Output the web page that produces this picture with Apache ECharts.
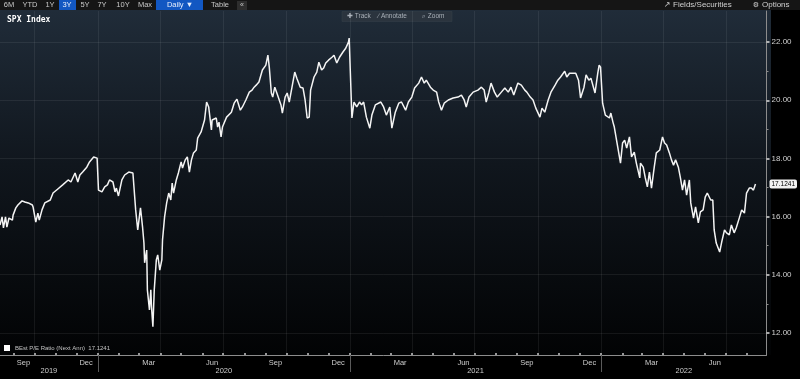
<!DOCTYPE html>
<html><head><meta charset="utf-8">
<script src="https://cdn.jsdelivr.net/npm/echarts@6/dist/echarts.min.js"></script>
<style>html,body{margin:0;padding:0;background:#000;}#c{width:800px;height:379px;}</style>
</head><body><div id="c"></div>
<script>
const seriesName = 'BEst P/E Ratio (Next Ann)';
const dates = [
'2019-08-12','2019-08-15','2019-08-17','2019-08-20','2019-08-22','2019-08-25','2019-08-30','2019-08-31','2019-09-04','2019-09-07',
'2019-09-13','2019-09-17','2019-09-22','2019-09-28','2019-09-29','2019-10-03','2019-10-06','2019-10-08','2019-10-12','2019-10-16',
'2019-10-24','2019-10-28','2019-11-04','2019-11-11','2019-11-19','2019-11-23','2019-11-29','2019-12-03','2019-12-06','2019-12-10',
'2019-12-16','2019-12-20','2019-12-26','2019-12-31','2020-01-02','2020-01-07','2020-01-11','2020-01-15','2020-01-18','2020-01-23',
'2020-01-26','2020-01-28','2020-01-31','2020-02-05','2020-02-09','2020-02-15','2020-02-16','2020-02-21','2020-02-25','2020-02-28',
'2020-03-03','2020-03-06','2020-03-08','2020-03-09','2020-03-12','2020-03-13','2020-03-16','2020-03-18','2020-03-19','2020-03-21',
'2020-03-23','2020-03-26','2020-03-28','2020-03-31','2020-04-03','2020-04-04','2020-04-07','2020-04-10','2020-04-13','2020-04-16',
'2020-04-18','2020-04-20','2020-04-24','2020-04-27','2020-05-01','2020-05-03','2020-05-07','2020-05-10','2020-05-13','2020-05-16',
'2020-05-19','2020-05-23','2020-05-25','2020-05-30','2020-06-04','2020-06-07','2020-06-10','2020-06-14','2020-06-15','2020-06-21',
'2020-06-23','2020-06-25','2020-06-28','2020-06-30','2020-07-06','2020-07-08','2020-07-13','2020-07-17','2020-07-21','2020-07-26',
'2020-07-29','2020-08-03','2020-08-08','2020-08-12','2020-08-15','2020-08-18','2020-08-22','2020-08-27','2020-09-01','2020-09-04',
'2020-09-06','2020-09-09','2020-09-11','2020-09-14','2020-09-17','2020-09-23','2020-09-25','2020-09-29','2020-10-02','2020-10-05',
'2020-10-09','2020-10-13','2020-10-16','2020-10-21','2020-10-25','2020-10-28','2020-10-31','2020-11-03','2020-11-05','2020-11-10',
'2020-11-14','2020-11-17','2020-11-21','2020-11-24','2020-11-27','2020-12-01','2020-12-06','2020-12-09','2020-12-13','2020-12-17',
'2020-12-22','2020-12-26','2020-12-30','2020-12-31','2021-01-04','2021-01-07','2021-01-11','2021-01-15','2021-01-18','2021-01-21',
'2021-01-25','2021-01-30','2021-02-02','2021-02-07','2021-02-15','2021-02-19','2021-02-23','2021-02-28','2021-03-03','2021-03-08',
'2021-03-13','2021-03-17','2021-03-23','2021-03-27','2021-04-01','2021-04-05','2021-04-11','2021-04-15','2021-04-19','2021-04-22',
'2021-04-28','2021-05-02','2021-05-07','2021-05-10','2021-05-14','2021-05-18','2021-05-24','2021-05-31','2021-06-07','2021-06-12',
'2021-06-16','2021-06-19','2021-06-23','2021-06-29','2021-07-06','2021-07-11','2021-07-15','2021-07-18','2021-07-22','2021-07-25',
'2021-07-30','2021-08-03','2021-08-09','2021-08-14','2021-08-19','2021-08-23','2021-08-27','2021-09-02','2021-09-07','2021-09-12',
'2021-09-15','2021-09-20','2021-09-24','2021-09-28','2021-10-04','2021-10-07','2021-10-11','2021-10-16','2021-10-20','2021-10-26',
'2021-10-30','2021-11-03','2021-11-09','2021-11-12','2021-11-16','2021-11-21','2021-11-25','2021-11-29','2021-12-02','2021-12-07',
'2021-12-10','2021-12-14','2021-12-17','2021-12-23','2021-12-27','2021-12-29','2021-12-31','2022-01-03','2022-01-07','2022-01-13',
'2022-01-15','2022-01-18','2022-01-20','2022-01-25','2022-01-29','2022-02-01','2022-02-04','2022-02-07','2022-02-11','2022-02-14',
'2022-02-18','2022-02-21','2022-02-26','2022-02-27','2022-03-03','2022-03-06','2022-03-09','2022-03-12','2022-03-15','2022-03-19',
'2022-03-22','2022-03-27','2022-03-31','2022-04-03','2022-04-06','2022-04-10','2022-04-13','2022-04-16','2022-04-19','2022-04-23',
'2022-04-26','2022-04-29','2022-05-02','2022-05-05','2022-05-09','2022-05-11','2022-05-15','2022-05-18','2022-05-22','2022-05-25',
'2022-05-29','2022-06-01','2022-06-04','2022-06-09','2022-06-12','2022-06-14','2022-06-17','2022-06-22','2022-06-25','2022-06-29',
'2022-07-02','2022-07-06','2022-07-09','2022-07-13','2022-07-16','2022-07-21','2022-07-24','2022-07-28','2022-07-31','2022-08-04',
'2022-08-07','2022-08-10','2022-08-13'
];
const values = [
15.71,15.99,15.61,15.99,15.64,15.95,15.88,16.05,16.30,16.40,
16.54,16.50,16.47,16.40,16.33,15.81,16.12,15.88,16.23,16.47,
16.57,16.81,16.95,17.09,17.26,17.19,17.50,17.19,17.43,17.53,
17.70,17.88,18.05,18.01,16.91,16.85,17.02,17.09,17.26,17.19,
16.85,16.98,16.71,17.26,17.43,17.53,17.57,17.50,16.23,15.54,
16.30,15.64,15.09,14.41,14.85,13.48,12.79,13.48,12.89,12.21,
13.48,14.51,14.68,14.16,14.51,15.20,15.99,16.47,16.81,16.57,
17.15,16.81,17.26,17.50,17.88,17.67,17.95,18.05,17.53,17.95,
18.19,18.29,18.70,18.91,19.32,19.94,19.77,18.98,19.32,19.39,
19.08,19.25,18.74,19.08,19.42,19.39,19.59,19.90,20.04,19.66,
19.77,20.01,20.28,20.35,20.45,20.52,20.63,21.04,21.21,21.55,
21.14,20.25,20.11,20.45,20.25,19.84,19.56,20.11,20.25,19.94,
20.45,20.97,20.76,20.45,20.42,20.01,19.39,19.42,20.35,20.80,
20.97,21.31,21.04,21.11,21.28,21.38,21.48,21.55,21.28,21.48,
21.66,21.79,22.00,22.14,19.39,19.94,19.77,19.94,19.84,19.94,
19.42,19.04,19.49,19.84,19.94,19.77,19.49,19.77,19.04,19.59,
19.90,19.94,19.66,19.94,20.11,20.42,20.59,20.80,20.59,20.69,
20.45,20.35,20.28,19.94,19.66,19.90,20.01,20.08,20.11,20.18,
20.01,19.77,20.11,20.28,20.35,20.45,20.35,19.94,20.28,20.59,
20.28,20.11,20.28,20.42,20.28,20.45,20.18,20.59,20.52,20.35,
20.28,20.11,20.01,19.73,19.42,19.73,19.59,20.01,20.28,20.52,
20.69,20.80,21.00,20.80,20.93,20.93,20.93,20.69,20.08,20.45,
20.87,20.69,20.76,20.25,20.93,21.21,21.14,19.90,19.49,19.39,
19.56,19.25,19.08,18.39,17.84,18.53,18.63,18.36,18.74,18.05,
18.22,17.84,17.33,17.84,17.70,17.33,17.02,17.53,16.98,17.70,
18.19,18.29,18.74,18.53,18.46,18.19,17.95,17.77,17.95,17.70,
17.33,16.91,17.26,16.74,17.26,16.47,15.95,16.33,15.78,16.16,
16.23,16.67,16.81,16.57,16.57,15.54,15.09,14.78,15.13,15.54,
15.44,15.37,15.71,15.44,15.61,15.99,16.23,16.12,16.81,16.98,
16.98,16.91,17.1241
];
const lastValueText = '17.1241';
const xMinDate = '2019-08-12';
const xMaxDate = '2022-08-29';
const monthTickDates = ['2019-09-01','2019-10-01','2019-11-01','2019-12-01','2020-01-01','2020-02-01','2020-03-01','2020-04-01','2020-05-01','2020-06-01','2020-07-01','2020-08-01','2020-09-01','2020-10-01','2020-11-01','2020-12-01','2021-01-01','2021-02-01','2021-03-01','2021-04-01','2021-05-01','2021-06-01','2021-07-01','2021-08-01','2021-09-01','2021-10-01','2021-11-01','2021-12-01','2022-01-01','2022-02-01','2022-03-01','2022-04-01','2022-05-01','2022-06-01','2022-07-01','2022-08-01'];
const gridLineDates = ['2019-10-01','2020-01-01','2020-04-01','2020-07-01','2020-10-01','2021-01-01','2021-04-01','2021-07-01','2021-10-01','2022-01-01','2022-04-01','2022-07-01'];
const monthLabelDates = ['2019-09-15','2019-12-15','2020-03-15','2020-06-15','2020-09-15','2020-12-15','2021-03-15','2021-06-15','2021-09-15','2021-12-15','2022-03-15','2022-06-15'];
const monthLabelNames = ['Sep','Dec','Mar','Jun','Sep','Dec','Mar','Jun','Sep','Dec','Mar','Jun'];
const yearStartDates = ['2020-01-01','2021-01-01','2022-01-01'];
const yearLabels = ['2019','2020','2021','2022'];
const yMajorTicks = [12,14,16,18,20,22];
const yMinorTicks = [13,15,17,19,21];
const yMin = 11.24, yMax = 23.07;

const ts = s => Date.UTC(+s.slice(0, 4), +s.slice(5, 7) - 1, +s.slice(8, 10));
const xMin = ts(xMinDate), xMax = ts(xMaxDate);
const monthLabelMap = {};
monthLabelDates.forEach((d, i) => { monthLabelMap[ts(d)] = monthLabelNames[i]; });
// year label at the middle of each year's visible span
const bounds = [xMin].concat(yearStartDates.map(ts)).concat([xMax]);
const yearMid = [], yearMap = {};
for (let i = 0; i < yearLabels.length; i++) {
  const m = Math.round((bounds[i] + bounds[i + 1]) / 2);
  yearMid.push(m); yearMap[m] = yearLabels[i];
}
const lastValue = values[values.length - 1];

const FONT = 'Liberation Sans';
const chart = echarts.init(document.getElementById('c'), null, {renderer: 'canvas'});

const txt = (text, x, y, fill, font, align) => ({type: 'text', style: {text, x, y, fill, font, textAlign: align || 'left', textVerticalAlign: 'middle'}, silent: true});

const baseX = {type: 'value', min: xMin, max: xMax, position: 'bottom', scale: true};

const option = {
  backgroundColor: '#000',
  animation: false,
  textStyle: {fontFamily: FONT},
  grid: {left: 0, right: 30, top: 11, bottom: 24, containLabel: false},
  legend: {
    show: true, left: 4, top: 345, padding: 0, icon: 'rect', itemWidth: 6, itemHeight: 6, itemGap: 3,
    data: [seriesName],
    formatter: name => name + '  ' + lastValueText,
    textStyle: {color: '#c4c4c4', fontSize: 6, fontFamily: FONT}
  },
  graphic: [
    {type: 'rect', z: -10, shape: {x: 0, y: 10, width: 771, height: 345}, style: {fill: {type: 'linear', x: 0, y: 0, x2: 0, y2: 1, colorStops: [{offset: 0, color: '#202c39'}, {offset: 0.45, color: '#10161d'}, {offset: 1, color: '#020304'}]}}, silent: true},
    {type: 'rect', z: -10, shape: {x: 0, y: 0, width: 800, height: 10}, style: {fill: '#151515'}, silent: true},
    {type: 'group', children: [
      {type: 'rect', shape: {x: 59, y: 0, width: 17, height: 10}, style: {fill: '#1257c2'}},
      {type: 'rect', shape: {x: 156, y: 0, width: 47, height: 10}, style: {fill: '#1257c2'}},
      {type: 'rect', shape: {x: 237, y: 1, width: 10, height: 9}, style: {fill: '#2e2e2e'}},
      txt('6M', 9, 5, '#c8c8c8', '7.5px ' + FONT, 'center'),
      txt('YTD', 30, 5, '#c8c8c8', '7.5px ' + FONT, 'center'),
      txt('1Y', 50, 5, '#c8c8c8', '7.5px ' + FONT, 'center'),
      txt('3Y', 67, 5, '#e6eefc', '7.5px ' + FONT, 'center'),
      txt('5Y', 85, 5, '#c8c8c8', '7.5px ' + FONT, 'center'),
      txt('7Y', 102, 5, '#c8c8c8', '7.5px ' + FONT, 'center'),
      txt('10Y', 123, 5, '#c8c8c8', '7.5px ' + FONT, 'center'),
      txt('Max', 145, 5, '#c8c8c8', '7.5px ' + FONT, 'center'),
      txt('Daily \u25BC', 180, 5, '#e6eefc', '7.5px ' + FONT, 'center'),
      txt('Table', 220, 5, '#c8c8c8', '7.5px ' + FONT, 'center'),
      txt('\u00AB', 242, 5, '#c8c8c8', '7px ' + FONT, 'center'),
      txt('\u2197', 667, 5, '#c8c8c8', '8px DejaVu Sans', 'center'),
      txt('Fields/Securities', 673, 5, '#d0d0d0', '8px ' + FONT),
      txt('\u2699', 756, 5, '#d0d0d0', '7px DejaVu Sans', 'center'),
      txt('Options', 762, 5, '#d0d0d0', '8px ' + FONT),
      txt('SPX Index', 7, 19.5, '#ffffff', 'bold 8px DejaVu Sans Mono'),
      {type: 'rect', shape: {x: 342, y: 11.5, width: 110, height: 10}, style: {fill: '#2b343e', stroke: '#36404b', lineWidth: 0.5}},
      txt('\u271A Track', 347, 16.5, '#a9b0b8', '6.5px ' + FONT),
      txt('\u2215 Annotate', 378, 16.5, '#a9b0b8', '6.5px ' + FONT),
      txt('\u2315 Zoom', 422, 16.5, '#a9b0b8', '6.5px ' + FONT)
    ]}
  ],
  xAxis: [
    Object.assign({}, baseX, {
      axisLine: {show: true, lineStyle: {color: '#8c8c8c', width: 1}},
      axisTick: {show: true, inside: true, length: 2, customValues: monthTickDates.map(ts), lineStyle: {color: '#c8c8c8', width: 1.5}},
      axisLabel: {show: false}, splitLine: {show: false}}),
    Object.assign({}, baseX, {
      axisLine: {show: false}, axisTick: {show: false, customValues: gridLineDates.map(ts)},
      axisLabel: {show: false},
      splitLine: {show: true, lineStyle: {color: 'rgba(255,255,255,0.07)', width: 1}}}),
    Object.assign({}, baseX, {
      axisLine: {show: false}, axisTick: {show: false}, splitLine: {show: false},
      axisLabel: {show: true, customValues: monthLabelDates.map(ts), margin: 4, color: '#cccccc', fontSize: 7.5, fontFamily: FONT,
        formatter: v => monthLabelMap[v] || ''}}),
    Object.assign({}, baseX, {
      axisLine: {show: false}, splitLine: {show: false},
      axisTick: {show: true, length: 17, customValues: yearStartDates.map(ts), lineStyle: {color: '#5a5a5a', width: 1}},
      axisLabel: {show: true, customValues: yearMid, margin: 12, color: '#cccccc', fontSize: 7.5, fontFamily: FONT,
        formatter: v => yearMap[v] || ''}})
  ],
  yAxis: [
    {type: 'value', position: 'right', min: yMin, max: yMax,
      axisLine: {show: true, lineStyle: {color: '#8c8c8c', width: 1}},
      axisTick: {show: true, length: 3, customValues: yMajorTicks, lineStyle: {color: '#e0e0e0', width: 1.5}},
      axisLabel: {show: true, customValues: yMajorTicks, margin: 5, color: '#d0d0d0', fontSize: 8, fontFamily: FONT,
        formatter: v => v.toFixed(2)},
      splitLine: {show: true, lineStyle: {color: 'rgba(255,255,255,0.07)', width: 1}}},
    {type: 'value', position: 'right', min: yMin, max: yMax,
      axisLine: {show: false}, splitLine: {show: false}, axisLabel: {show: false},
      axisTick: {show: true, length: 2, customValues: yMinorTicks, lineStyle: {color: '#8c8c8c', width: 1}}},
    {type: 'value', position: 'right', min: yMin, max: yMax,
      axisLine: {show: false}, splitLine: {show: false}, axisTick: {show: false},
      axisLabel: {show: true, customValues: [lastValue], margin: 3, color: '#000', fontSize: 6.5, fontFamily: FONT,
        backgroundColor: '#f2f2f2', padding: [1, 2, 1, 2], borderRadius: 2,
        formatter: () => lastValueText}}
  ],
  series: [{
    name: seriesName, type: 'line', xAxisIndex: 0, yAxisIndex: 0,
    data: dates.map((d, i) => [ts(d), values[i]]),
    showSymbol: false, symbol: 'none', clip: true,
    itemStyle: {color: '#ffffff'},
    lineStyle: {color: '#f4f4f4', width: 1.5}
  }]
};
chart.setOption(option);
</script></body></html>
